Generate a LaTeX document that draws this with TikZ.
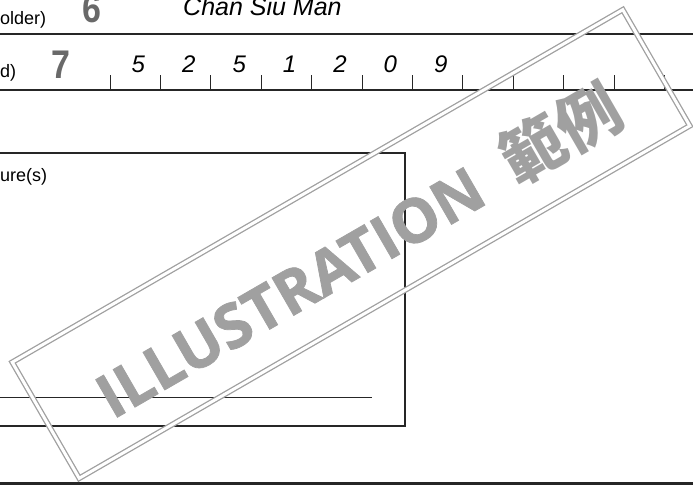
\documentclass[tikz,border=0pt]{standalone}
\usepackage{fontspec}
\setmainfont{Liberation Sans}
\newfontfamily\wmfont[BoldFeatures={FakeBold=1.2}]{Open Sans}
\newfontfamily\cjk{Noto Sans CJK TC}
\usepackage{tikz}
\usetikzlibrary{positioning}
\definecolor{inkgray}{RGB}{105,105,105}
\definecolor{wmgray}{RGB}{160,160,160}
\tikzset{
  formtext/.style={inner sep=0pt, anchor=base west, font=\fontsize{18}{20}\selectfont},
  bignum/.style={inner sep=0pt, anchor=base west, text=inkgray, xscale=0.85, font=\fontsize{40}{40}\selectfont\bfseries},
  digit/.style={inner sep=0pt, anchor=base, font=\fontsize{24}{26}\selectfont\itshape},
  formline/.style={line width=1.2pt, black!85},
}

\begin{document}
\begin{tikzpicture}[x=1pt,y=-1pt]
  \useasboundingbox (0,0) rectangle (693,489);
  \clip (0,0) rectangle (693,489);

  % holder name row
  \node[formtext] (holder) at (0,25) {older)};
  \node[bignum] (six) at (82,23) {6};
  \node[formtext, font=\fontsize{25}{27}\selectfont\itshape] (name) at (183,16) {Chan Siu Man};
  \draw[formline] (0,34) -- (693,34);

  % number row
  \node[formtext] (idcard) at (0,78) {d)};
  \node[bignum] (seven) at (51,79) {7};
  \foreach \i in {0,...,11}
    \draw[line width=0.9pt, black!85] (110+50.4*\i,90) -- ++(0,-15);
  \foreach \d [count=\k] in {5,2,5,1,2,0,9}
    \node[digit] (d\k) at (110+50.4*\k-22,73) {\d};
  \draw[formline] (0,90) -- (693,90);

  % signature box
  \draw[line width=1.5pt, black!85] (0,153) -- (405,153) -- (405,426) -- (0,426);
  \node[formtext] (sign) at (0,182) {ure(s)};
  \draw[line width=0.8pt, black!85] (0,397) -- (372,397);

  \draw[line width=3pt, black!85] (0,483) -- (693,483);

  % stamp
  \node[draw=wmgray, line width=1.3pt, double=white, double distance=3pt,
        rotate=30, minimum width=705pt, minimum height=134pt] (frame) at (351,244) {};
  \node[rotate=30, text=wmgray, inner sep=0pt,
        font=\wmfont\bfseries\fontsize{61}{61}\selectfont] (stamp) at (358,250)
        {ILLUSTRATION\ \ {\cjk\fontsize{64}{64}\selectfont 範例}};
\end{tikzpicture}
\end{document}
